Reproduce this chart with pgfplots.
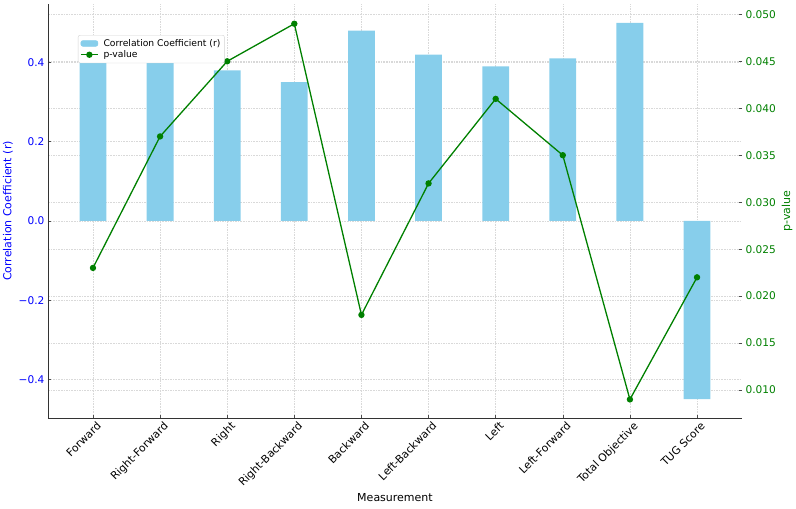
\documentclass[border=0pt]{standalone}
\usepackage{fontspec}
\setmainfont{DejaVu Sans}
\usepackage{pgfplots}
\pgfplotsset{compat=1.18}
\definecolor{skyblue}{RGB}{135,206,235}
\definecolor{pgreen}{RGB}{0,128,0}
\definecolor{lblue}{RGB}{0,0,255}

\pgfplotsset{
  base/.style={
    scale only axis, width=694pt, height=414pt,
    xmin=-0.67, xmax=9.67,
    tick align=inside,
    major tick length=3.5pt,
    every tick/.style={black!70, line width=0.6pt},
    grid style={gray!30, dash pattern=on 1.6pt off 1pt, line width=0.45pt},
    /pgf/number format/assume math mode=true,
    clip=false,
  }
}

\begin{document}
\begin{tikzpicture}
% grid of the right-hand scale (drawn behind everything)
\begin{axis}[base,
  ymin=0.00702, ymax=0.0511,
  ytick={0.010,0.015,0.020,0.025,0.030,0.035,0.040,0.045,0.050},
  yticklabels={}, xtick=\empty, xticklabels={},
  ymajorgrids,
  axis line style={draw=none},
  major tick length=0pt]
\addplot[draw=none] coordinates {(0,0.02)};
\end{axis}

% bars, left scale
\begin{axis}[base,
  ymin=-0.4975, ymax=0.5475,
  axis x line*=bottom, axis y line*=left,
  axis line style={black!80, line width=0.8pt},
  xtick={0,1,2,3,4,5,6,7,8,9},
  xticklabels={Forward,Right-Forward,Right,Right-Backward,Backward,Left-Backward,Left,Left-Forward,Total Objective,TUG Score},
  x tick label style={rotate=45, anchor=north east, font=\fontsize{10.8}{12}\selectfont, inner sep=1pt, yshift=-3pt, xshift=1pt},
  ytick={-0.4,-0.2,0,0.2,0.4},
  yticklabels={−0.4,−0.2,0.0,0.2,0.4},
  y tick label style={lblue, font=\fontsize{10.6}{12}\selectfont},
  xmajorgrids, ymajorgrids,
  xlabel={Measurement},
  xlabel style={font=\fontsize{11}{13}\selectfont, at={(axis description cs:0.5,-0.193)}, anchor=center},
  ylabel={Correlation Coefficient (r)},
  ylabel style={lblue, font=\fontsize{11}{13}\selectfont, at={(axis description cs:-0.0576,0.5)}, anchor=center},
]
\addplot[ybar, bar width=0.4, fill=skyblue, draw=none] coordinates {
  (0,0.45) (1,0.40) (2,0.38) (3,0.35) (4,0.48)
  (5,0.42) (6,0.39) (7,0.41) (8,0.50) (9,-0.45)
};
\coordinate (sw) at (rel axis cs:0,0);
\coordinate (ne) at (rel axis cs:1,1);
\end{axis}

% p-value line, right scale
\begin{axis}[base,
  ymin=0.00702, ymax=0.0511,
  xtick=\empty, xticklabels={},
  axis x line=none,
  axis y line*=right,
  y axis line style={draw=none},
  ytick={0.010,0.015,0.020,0.025,0.030,0.035,0.040,0.045,0.050},
  yticklabels={0.010,0.015,0.020,0.025,0.030,0.035,0.040,0.045,0.050},
  y tick label style={pgreen, font=\fontsize{10.6}{12}\selectfont},
  ylabel={p-value},
  ylabel style={pgreen, font=\fontsize{11}{13}\selectfont, at={(axis description cs:1.065,0.5)}, anchor=center},
  legend style={at={(axis description cs:0.0432,0.9251)}, anchor=north west,
    fill=white, draw=gray!35, rounded corners=2pt,
    font=\fontsize{9.2}{10}\selectfont, row sep=-1.2pt, inner sep=2pt,
    column sep=3pt},
  legend cell align=left,
]
\addlegendimage{area legend, fill=skyblue, draw=skyblue}
\addlegendentry{Correlation Coefficient (r)}
\addplot[pgreen, line width=1.3pt, mark=*, mark size=2.5pt, mark options={solid, fill=pgreen}] coordinates {
  (0,0.023) (1,0.037) (2,0.045) (3,0.049) (4,0.018)
  (5,0.032) (6,0.041) (7,0.035) (8,0.009) (9,0.022)
};
\addlegendentry{p-value}
\end{axis}
\pgfresetboundingbox
\path ([shift={(-48pt,-90pt)}]sw) rectangle ([shift={(54pt,4pt)}]ne);
\end{tikzpicture}
\end{document}
